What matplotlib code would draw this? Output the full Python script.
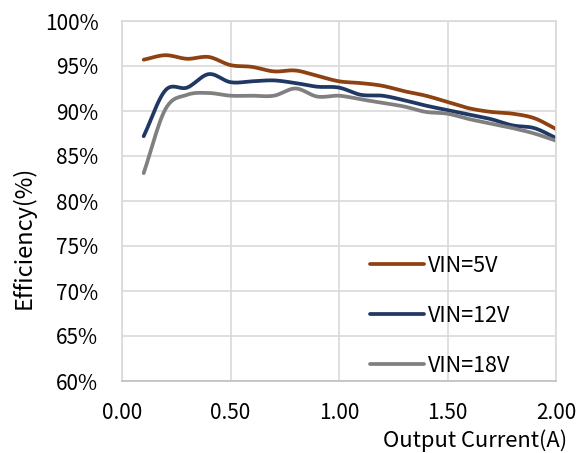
import numpy as np
import matplotlib
matplotlib.use("Agg")
import matplotlib.pyplot as plt

plt.rcParams['font.family'] = ['Noto Sans CJK SC', 'DejaVu Sans']
plt.rcParams['font.weight'] = 'medium'

# output current (A)
current = [0.1, 0.2, 0.3, 0.4, 0.5, 0.6, 0.7, 0.8, 0.9, 1.0,
           1.1, 1.2, 1.3, 1.4, 1.5, 1.6, 1.7, 1.8, 1.9, 2.0]

# efficiency (%)
eff_5v = [95.7, 96.2, 95.8, 96.0, 95.1, 94.9, 94.4, 94.5, 93.9, 93.3,
          93.1, 92.8, 92.2, 91.7, 91.0, 90.3, 89.9, 89.7, 89.2, 88.0]
eff_12v = [87.2, 92.3, 92.6, 94.1, 93.2, 93.3, 93.4, 93.1, 92.7, 92.6,
           91.8, 91.7, 91.2, 90.6, 90.1, 89.6, 89.1, 88.4, 88.1, 87.0]
eff_18v = [83.1, 90.2, 91.8, 92.0, 91.7, 91.7, 91.7, 92.5, 91.6, 91.7,
           91.3, 90.9, 90.5, 89.9, 89.7, 89.1, 88.6, 88.1, 87.5, 86.7]

labels = ["VIN=5V", "VIN=12V", "VIN=18V"]
colors = ["#8E4211", "#203864", "#808080"]


def smooth(x, y, n=12):
    # catmull-rom style curve through the points, like excel "smoothed line"
    x = np.asarray(x, float)
    y = np.asarray(y, float)
    px = np.concatenate([[2 * x[0] - x[1]], x, [2 * x[-1] - x[-2]]])
    py = np.concatenate([[2 * y[0] - y[1]], y, [2 * y[-1] - y[-2]]])
    t = np.linspace(0, 1, n, endpoint=False)
    xs, ys = [], []
    for i in range(1, len(px) - 2):
        for arr, out in ((px, xs), (py, ys)):
            p0, p1, p2, p3 = arr[i - 1], arr[i], arr[i + 1], arr[i + 2]
            out.extend(0.5 * (2 * p1 + (-p0 + p2) * t
                              + (2 * p0 - 5 * p1 + 4 * p2 - p3) * t ** 2
                              + (-p0 + 3 * p1 - 3 * p2 + p3) * t ** 3))
    xs.append(x[-1])
    ys.append(y[-1])
    return np.array(xs), np.array(ys)


fig = plt.figure(figsize=(5.86, 4.53), dpi=100)
ax = fig.add_axes([122 / 586, 1 - 381 / 453, 434 / 586, 360 / 453])

for ys, lab, col in zip([eff_5v, eff_12v, eff_18v], labels, colors):
    sx, sy = smooth(current, ys)
    ax.plot(sx, sy, color=col, lw=2.7, label=lab, solid_capstyle='round')

ax.set_xlim(0, 2.0)
ax.set_ylim(60, 100)
ax.set_xticks(np.arange(0, 2.01, 0.5))
ax.set_yticks(np.arange(60, 100.1, 5))
ax.set_xticklabels([f"{v:.2f}" for v in np.arange(0, 2.01, 0.5)])
ax.set_yticklabels([f"{int(v)}%" for v in np.arange(60, 100.1, 5)])
ax.tick_params(length=0, labelsize=15, pad=15)
ax.tick_params(axis='y', pad=17)
ax.grid(True, color="#D9D9D9", lw=1.2)
ax.set_axisbelow(True)
for s in ax.spines.values():
    s.set_color("#D9D9D9")
    s.set_linewidth(1.2)
ax.spines['bottom'].set_color("#BFBFBF")

fig.text(24 / 586, 1 - 237 / 453, "Efficiency(%)", fontsize=17,
         rotation=90, ha='center', va='center')
fig.text(567 / 586, 1 - 441 / 453, "Output Current(A)", fontsize=15.8,
         ha='right', va='center')

ax.legend(loc='upper left', bbox_to_anchor=(0.571, 0.35), frameon=False,
          fontsize=15.5, handlelength=2.5, handletextpad=0.2,
          labelspacing=1.3, borderaxespad=0, borderpad=0)

fig.savefig("out.png", dpi=100)
